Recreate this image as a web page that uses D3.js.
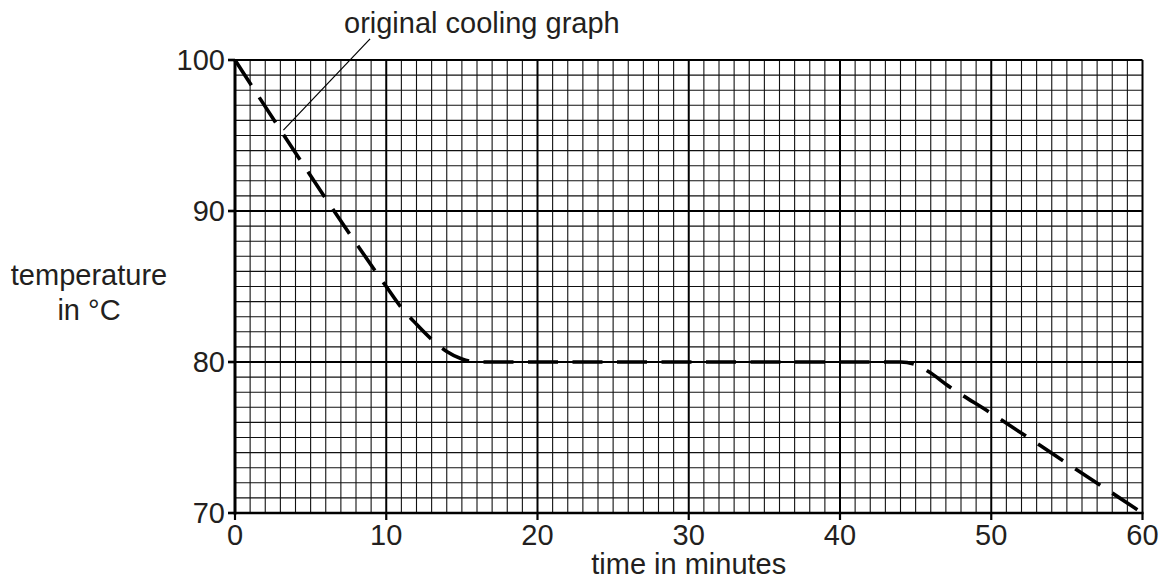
<!DOCTYPE html>
<html>
<head>
<meta charset="utf-8">
<script src="https://cdn.jsdelivr.net/npm/d3@7"></script>
<style>
  html, body { margin: 0; padding: 0; background: #fff; }
  svg { display: block; }
  text { font-family: "Liberation Sans", Arial, Helvetica, sans-serif; fill: #231f20; }
</style>
</head>
<body>
<svg id="chart" width="1166" height="581"></svg>
<script>
// ---- data ----
const timeMin = [0, 10, 11, 12, 13, 14, 15, 16, 44, 45, 46, 47, 50, 55, 60];
const tempC   = [100, 85, 83.6, 82.5, 81.5, 80.7, 80.2, 80, 80, 79.83, 79.27, 78.53, 76.6, 73.3, 70];
const xTicks = [0, 10, 20, 30, 40, 50, 60];
const yTicks = [70, 80, 90, 100];
const xTitle = "time in minutes";
const yTitleLines = ["temperature", "in °C"];
const annotationText = "original cooling graph";
const annotationFrom = [8.93, 101.4];   // data coords (time, temp) of leader top
const annotationTo = [3.2, 95.36];      // data coords where leader meets curve

// ---- layout ----
const svg = d3.select("#chart");
const x = d3.scaleLinear().domain([0, 60]).range([235, 1142.5]);
const y = d3.scaleLinear().domain([70, 100]).range([513, 60]);

const g = svg.append("g");

// minor grid
g.append("g").selectAll("line").data(d3.range(0, 61, 1).filter(d => d % 10 !== 0)).join("line")
  .attr("x1", d => x(d)).attr("x2", d => x(d)).attr("y1", y(100)).attr("y2", y(70))
  .attr("stroke", "#111").attr("stroke-width", 1.1);
g.append("g").selectAll("line").data(d3.range(70, 101, 1).filter(d => d % 10 !== 0)).join("line")
  .attr("y1", d => y(d)).attr("y2", d => y(d)).attr("x1", x(0)).attr("x2", x(60))
  .attr("stroke", "#111").attr("stroke-width", 1.1);
// major grid
g.append("g").selectAll("line").data(xTicks).join("line")
  .attr("x1", d => x(d)).attr("x2", d => x(d)).attr("y1", y(100)).attr("y2", y(70))
  .attr("stroke", "#000").attr("stroke-width", 2);
g.append("g").selectAll("line").data(yTicks).join("line")
  .attr("y1", d => y(d)).attr("y2", d => y(d)).attr("x1", x(0)).attr("x2", x(60))
  .attr("stroke", "#000").attr("stroke-width", 2);

// axes lines
g.append("line").attr("x1", x(0)).attr("x2", x(0)).attr("y1", y(100) - 1).attr("y2", y(70) + 1.5)
  .attr("stroke", "#000").attr("stroke-width", 3);
g.append("line").attr("x1", x(0)).attr("x2", x(60) + 1).attr("y1", y(70)).attr("y2", y(70))
  .attr("stroke", "#000").attr("stroke-width", 2.6);

// ticks
g.append("g").selectAll("line").data(yTicks).join("line")
  .attr("x1", x(0) - 7).attr("x2", x(0)).attr("y1", d => y(d)).attr("y2", d => y(d))
  .attr("stroke", "#000").attr("stroke-width", 2.6);
g.append("g").selectAll("line").data(xTicks).join("line")
  .attr("x1", d => x(d)).attr("x2", d => x(d)).attr("y1", y(70)).attr("y2", y(70) + 7)
  .attr("stroke", "#000").attr("stroke-width", 2.2);

// tick labels
g.append("g").selectAll("text").data(yTicks).join("text")
  .attr("x", x(0) - 10).attr("y", d => y(d)).attr("dy", "0.33em")
  .attr("text-anchor", "end").attr("font-size", 29).text(d => d);
g.append("g").selectAll("text").data(xTicks).join("text")
  .attr("x", d => x(d)).attr("y", y(70) + 32)
  .attr("text-anchor", "middle").attr("font-size", 29).text(d => d);

// axis titles
g.append("text").attr("x", (x(0) + x(60)) / 2).attr("y", 574)
  .attr("text-anchor", "middle").attr("font-size", 29).text(xTitle);
g.append("g").selectAll("text").data(yTitleLines).join("text")
  .attr("x", 89).attr("y", (d, i) => 285 + i * 35)
  .attr("text-anchor", "middle").attr("font-size", 29).text(d => d);

// curve
const pts = timeMin.map((t, i) => [t, tempC[i]]);
const line = d3.line().x(d => x(d[0])).y(d => y(d[1])).curve(d3.curveMonotoneX);
g.append("path").attr("d", line(pts))
  .attr("fill", "none").attr("stroke", "#000").attr("stroke-width", 3.6)
  .attr("stroke-dasharray", "30 14.5");

// annotation
g.append("line")
  .attr("x1", x(annotationFrom[0])).attr("y1", y(annotationFrom[1]))
  .attr("x2", x(annotationTo[0])).attr("y2", y(annotationTo[1]))
  .attr("stroke", "#000").attr("stroke-width", 1.2);
g.append("text").attr("x", 344).attr("y", 33).attr("font-size", 29).text(annotationText);
</script>
</body>
</html>
